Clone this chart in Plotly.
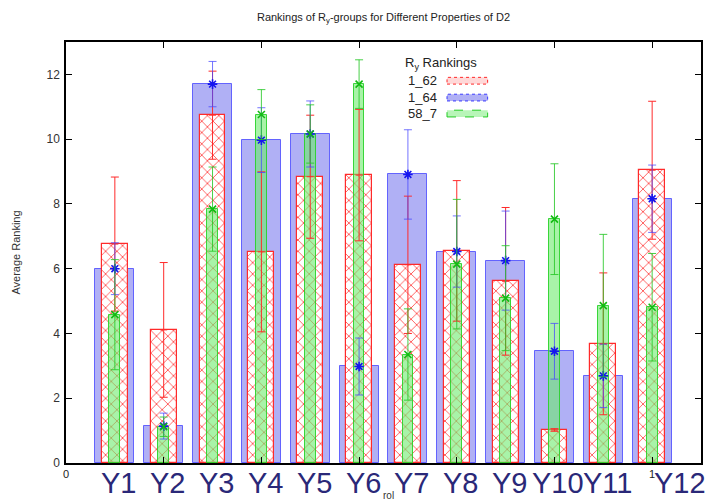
import plotly.graph_objects as go

# ---- data ----
categories = ["Y1", "Y2", "Y3", "Y4", "Y5", "Y6", "Y7", "Y8", "Y9", "Y10", "Y11", "Y12"]
series_names = ["1_62", "1_64", "58_7"]
rank_1_62 = [6.76, 4.11, 10.74, 6.52, 8.84, 8.89, 6.12, 6.55, 5.61, 1.02, 3.68, 9.04]
err_1_62 = [2.07, 2.08, 1.36, 2.47, 1.90, 2.03, 2.12, 2.17, 2.28, 0.04, 2.19, 2.13]
rank_1_64 = [6.00, 1.14, 11.70, 9.97, 10.16, 2.98, 8.91, 6.53, 6.25, 3.45, 2.69, 8.16]
err_1_64 = [0.80, 0.40, 0.70, 1.00, 1.02, 0.88, 1.38, 1.10, 1.53, 0.86, 0.98, 1.04]
rank_58_7 = [4.58, 1.12, 7.84, 10.76, 10.16, 11.70, 3.35, 6.14, 5.09, 7.53, 4.86, 4.81]
err_58_7 = [1.70, 0.30, 1.30, 0.77, 0.90, 0.75, 1.41, 2.00, 1.62, 1.71, 2.20, 1.66]
y_ticks = [0, 2, 4, 6, 8, 10, 12]
x_ticks = [0, 1]
x_ticklabels = ["0", "1"]

n = len(categories)
xpos = [(i + 1) / 12 for i in range(n)]
FONT = "Liberation Sans, Arial, Helvetica, sans-serif"

RED = "#ff2a2a"
BLUE = "#3a3aff"
GREEN = "#22cc22"

fig = go.Figure()

# blue (widest, behind)
fig.add_trace(go.Bar(
    x=xpos, y=rank_1_64, width=0.8 / 12, name=series_names[1],
    marker=dict(color="#b0b0f5", line=dict(color="rgba(70,70,255,0.8)", width=1)),
    showlegend=False))
# red hatched
fig.add_trace(go.Bar(
    x=xpos, y=rank_1_62, width=0.53 / 12, name=series_names[0],
    marker=dict(color="white",
                line=dict(color=RED, width=1.2),
                pattern=dict(shape="x", fgcolor="rgba(255,40,40,0.95)", bgcolor="white",
                             size=8, solidity=0.18, fillmode="replace")),
    showlegend=False))
# green narrow
fig.add_trace(go.Bar(
    x=xpos, y=rank_58_7, width=0.22 / 12, name=series_names[2],
    marker=dict(color="rgba(110,235,110,0.6)", line=dict(color="rgba(40,210,40,0.9)", width=1)),
    showlegend=False))

# error bars + point markers
fig.add_trace(go.Scatter(
    x=xpos, y=rank_1_62, mode="markers",
    marker=dict(symbol="line-ew", size=5, color=RED, line=dict(color=RED, width=1)),
    error_y=dict(type="data", array=err_1_62, color=RED, thickness=1, width=4),
    showlegend=False))
fig.add_trace(go.Scatter(
    x=xpos, y=rank_1_64, mode="markers",
    marker=dict(symbol="asterisk", size=8, color=BLUE, line=dict(color="#1515ee", width=1.6)),
    error_y=dict(type="data", array=err_1_64, color="rgba(70,70,255,0.75)", thickness=1, width=4),
    showlegend=False))
fig.add_trace(go.Scatter(
    x=xpos, y=rank_58_7, mode="markers",
    marker=dict(symbol="x-thin", size=7, color=GREEN, line=dict(color="#11bb11", width=1.6)),
    error_y=dict(type="data", array=err_58_7, color="rgba(40,200,40,0.85)", thickness=1, width=4),
    showlegend=False))

# big category labels below the axis
annotations = []
for i, c in enumerate(categories):
    shift = 28 if i == n - 1 else 4
    annotations.append(dict(
        x=xpos[i], y=-0.048, xref="x", yref="paper", text=c, showarrow=False,
        xanchor="center", yanchor="middle", xshift=shift,
        font=dict(family=FONT, size=29, color="#2a2878")))

annotations.append(dict(x=0.5086, y=-0.077, xref="paper", yref="paper", text="rol",
                        showarrow=False, xanchor="center", yanchor="middle",
                        font=dict(family=FONT, size=10, color="#333")))

# custom legend (gnuplot style: text then sample)
annotations.append(dict(x=0.591, y=0.948, xref="paper", yref="paper",
                        text="R<sub>y</sub> Rankings", showarrow=False,
                        xanchor="center", yanchor="middle",
                        font=dict(family=FONT, size=13, color="#222")))
leg_y = [0.908, 0.868, 0.830]
leg_fill = ["rgba(255,190,190,0.6)", "#b0b0f5", "#b8f5b8"]
leg_line = [dict(color=RED, width=1, dash="dot"),
            dict(color=BLUE, width=1, dash="dot"),
            dict(color=GREEN, width=1, dash="dash")]
shapes = []
for name, yy, fc, ln in zip(series_names, leg_y, leg_fill, leg_line):
    annotations.append(dict(x=0.587, y=yy, xref="paper", yref="paper", text=name,
                            showarrow=False, xanchor="right", yanchor="middle",
                            font=dict(family=FONT, size=13, color="#222")))
    shapes.append(dict(type="rect", xref="paper", yref="paper",
                       x0=0.6, x1=0.664, y0=yy - 0.008, y1=yy + 0.008,
                       fillcolor=fc, line=ln))

fig.update_layout(
    width=714, height=503,
    margin=dict(l=66, r=11, t=42, b=40),
    paper_bgcolor="white", plot_bgcolor="white",
    barmode="overlay", bargap=0,
    title=dict(text="Rankings of R<sub>y</sub>-groups for Different Properties of D2",
               x=0.5, xref="paper", y=0.966, yref="container", yanchor="middle",
               font=dict(family=FONT, size=11, color="#222")),
    font=dict(family=FONT, color="#222"),
    annotations=annotations,
    shapes=shapes,
)
fig.update_xaxes(
    range=[0, 13 / 12], tickvals=x_ticks, ticktext=x_ticklabels,
    tickfont=dict(size=11, color="#222"),
    showline=True, linecolor="black", linewidth=1.5, mirror="allticks",
    ticks="inside", ticklen=6, tickcolor="black", tickwidth=1.2,
    minor=dict(tickvals=[k / 6 for k in range(1, 6)], ticks="inside", ticklen=6,
               tickcolor="black", tickwidth=1.2),
    showgrid=False, zeroline=False)
fig.update_yaxes(
    range=[0, 13], tickvals=y_ticks,
    tickfont=dict(size=12, color="#333"), ticklabelstandoff=2,
    title=dict(text="Average Ranking", font=dict(size=11, color="#333"), standoff=24),
    showline=True, linecolor="black", linewidth=1.5, mirror="allticks",
    ticks="inside", ticklen=6, tickcolor="black", tickwidth=1.2,
    showgrid=False, zeroline=False)

fig.write_html("out.html")
